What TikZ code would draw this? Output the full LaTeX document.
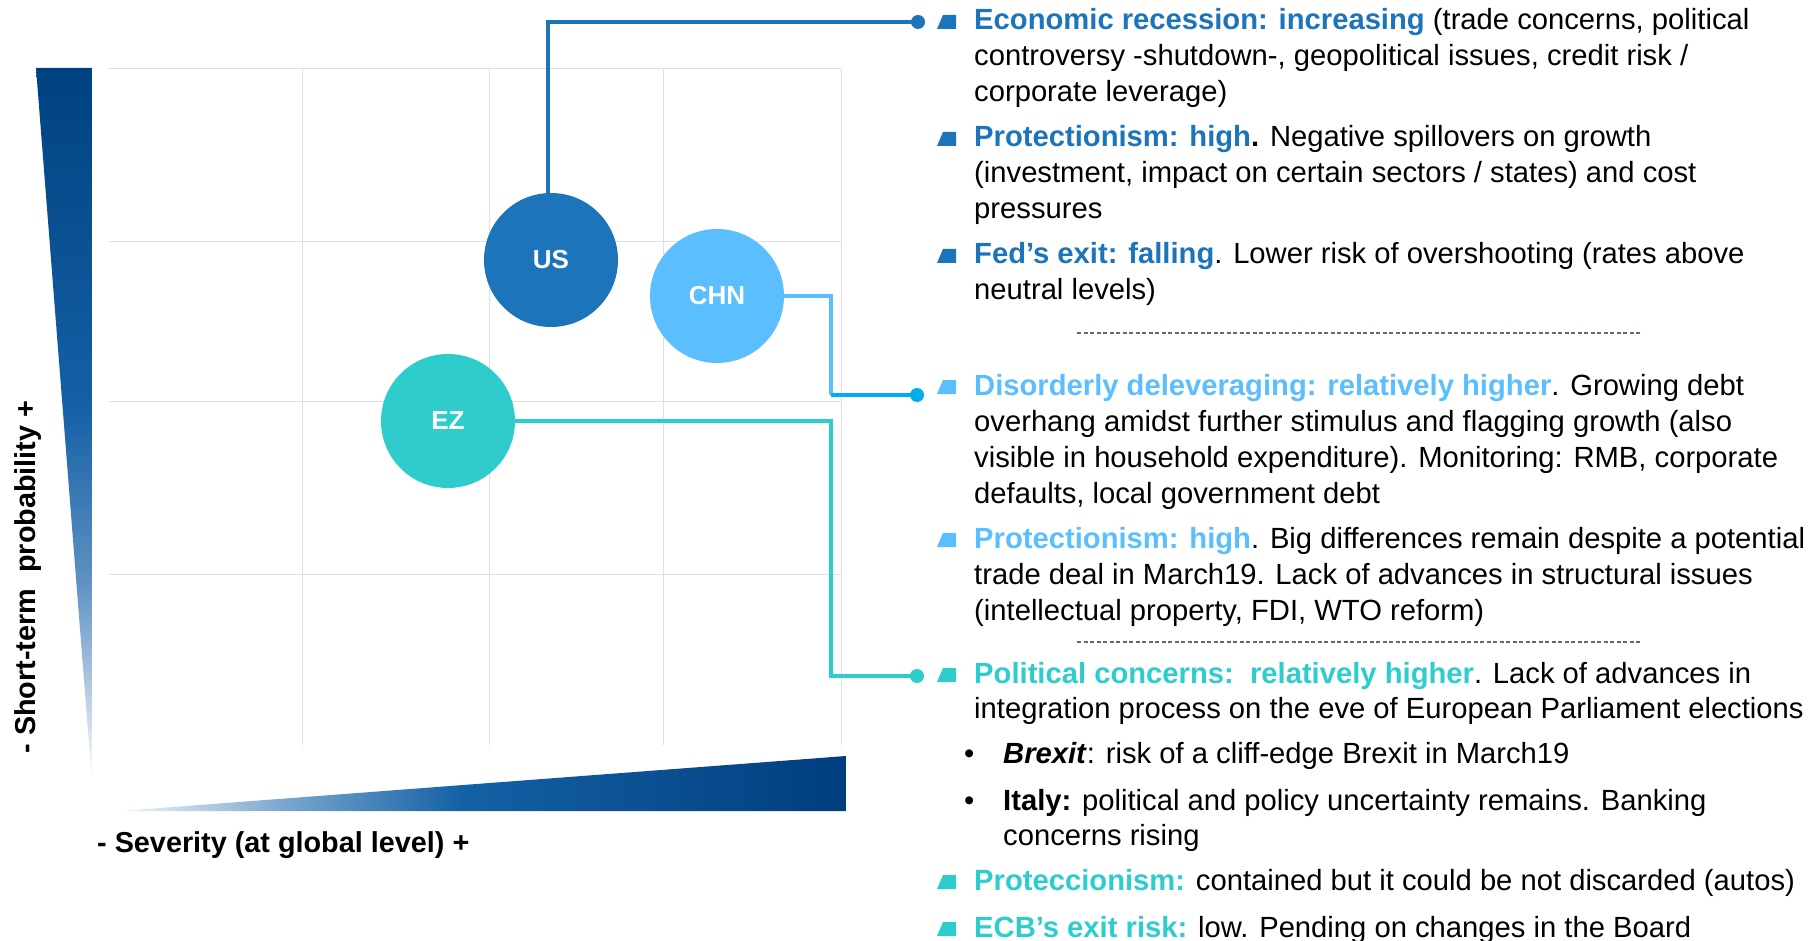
\documentclass[tikz,border=0pt]{standalone}
\usepackage{fontspec}
\setmainfont{Liberation Sans}
\usetikzlibrary{calc}
\definecolor{usb}{RGB}{28,116,187}
\definecolor{chn}{RGB}{91,190,255}
\definecolor{chnl}{RGB}{0,174,239}
\definecolor{ezc}{RGB}{46,204,204}
\definecolor{navy}{RGB}{0,62,126}
\definecolor{navyt}{RGB}{0,66,128}
\definecolor{sm1}{RGB}{120,165,205}
\definecolor{sm2}{RGB}{20,97,165}
\definecolor{pv1}{RGB}{190,210,230}
\definecolor{pv2}{RGB}{95,145,195}
\definecolor{pv3}{RGB}{20,95,165}
\definecolor{lw}{RGB}{240,245,251}
\definecolor{gridc}{RGB}{224,224,224}
\definecolor{sepc}{RGB}{100,100,125}
\pgfdeclarehorizontalshading{sevsh}{100bp}{color(0bp)=(lw); color(25bp)=(lw); color(36.5bp)=(sm1); color(48.5bp)=(sm2); color(75bp)=(navy); color(100bp)=(navy)}
\pgfdeclareverticalshading{probsh}{100bp}{color(0bp)=(white); color(25bp)=(white); color(30.5bp)=(pv1); color(39bp)=(pv2); color(51.5bp)=(pv3); color(75bp)=(navyt); color(100bp)=(navyt)}
\newcommand\hUS[1]{\textbf{\textcolor{usb}{#1}}}
\newcommand\hCH[1]{\textbf{\textcolor{chn}{#1}}}
\newcommand\hEZ[1]{\textbf{\textcolor{ezc}{#1}}}
\newcommand\sqbul[2]{\fill[#1] (937,#2-1) -- (956,#2-1) -- (956,#2-15) -- (943,#2-15) -- cycle;}
\tikzset{
  body/.style={anchor=base west, inner sep=0pt, font=\fontsize{29.2}{36}\selectfont, text=black},
  country/.style={circle, inner sep=0pt, minimum size=134pt, text=white, font=\fontsize{26}{30}\selectfont\bfseries},
  conn/.style={line width=4pt},
  gridline/.style={draw=gridc, line width=1pt},
  sepline/.style={draw=sepc, line width=1.2pt, dash pattern=on 4pt off 2.5pt},
  axislabel/.style={inner sep=0pt, font=\fontsize{28.8}{32}\selectfont\bfseries, text=black}
}
\begin{document}
\begin{tikzpicture}[x=1pt,y=-1pt]
\useasboundingbox (0,0) rectangle (1818,941);
% grid
\foreach \yy in {69,242,401,574} {\draw[gridline] (109,\yy) -- (841,\yy);}
\foreach \xx in {302,489,663,841} {\draw[gridline] (\xx,69) -- (\xx,745);}
% axis wedges
\shade[shading=probsh] (36,68) -- (92,68) -- (92,782) -- cycle;
\shade[shading=sevsh] (120,811) -- (846,811) -- (846,756) -- cycle;
% axis labels
\node[axislabel, rotate=90] (ylab) at (28,577) {- Short-term\ \ probability +};
\node[axislabel, anchor=base west] (xlab) at (97,852) {- Severity (at global level) +};
% countries
\node[country, fill=usb] (US) at (551,260) {US};
\node[country, fill=chn] (CHN) at (717,296) {CHN};
\node[country, fill=ezc] (EZ) at (448,421) {EZ};
% connector ends
\coordinate (dUS) at (918,22);
\coordinate (kC) at (831,395);
\coordinate (dCH) at (917,395);
\coordinate (kE) at (831,676);
\coordinate (dEZ) at (917,676);
\draw[conn, usb] ([xshift=-3pt]US.north) |- (dUS);
\draw[conn, chn] (CHN.east) -| (kC);
\draw[conn, chnl] (kC) -- (dCH);
\draw[conn, ezc] (EZ.east) -| (kE) -- (dEZ);
\fill[usb] (dUS) circle (7);
\fill[chnl] (dCH) circle (7);
\fill[ezc] (dEZ) circle (7);
% bullets
\sqbul{usb}{30}
\sqbul{usb}{147}
\sqbul{usb}{264}
\sqbul{chn}{395}
\sqbul{chn}{548}
\sqbul{ezc}{683}
\sqbul{ezc}{890}
\sqbul{ezc}{937}
% US text
\node[body] (u1) at (974,30) {\hUS{Economic recession: increasing} (trade concerns, political};
\node[body] (u2) at (974,66) {controversy -shutdown-, geopolitical issues, credit risk /};
\node[body] (u3) at (974,102) {corporate leverage)};
\node[body] (u4) at (974,147) {\hUS{Protectionism: high}\textbf{.} Negative spillovers on growth};
\node[body] (u5) at (974,183) {(investment, impact on certain sectors / states) and cost};
\node[body] (u6) at (974,219) {pressures};
\node[body] (u7) at (974,264) {\hUS{Fed’s exit: falling}. Lower risk of overshooting (rates above};
\node[body] (u8) at (974,300) {neutral levels)};
% separators
\coordinate (s1a) at (1077,333); \coordinate (s1b) at (1642,333);
\coordinate (s2a) at (1077,642); \coordinate (s2b) at (1642,642);
\draw[sepline] (s1a) -- (s1b);
\draw[sepline] (s2a) -- (s2b);
% CHN text
\node[body] (c1) at (974,395) {\hCH{Disorderly deleveraging: relatively higher}. Growing debt};
\node[body] (c2) at (974,431) {overhang amidst further stimulus and flagging growth (also};
\node[body] (c3) at (974,467) {visible in household expenditure). Monitoring: RMB, corporate};
\node[body] (c4) at (974,503) {defaults, local government debt};
\node[body] (c5) at (974,548) {\hCH{Protectionism: high}. Big differences remain despite a potential};
\node[body] (c6) at (974,584) {trade deal in March19. Lack of advances in structural issues};
\node[body] (c7) at (974,620) {(intellectual property, FDI, WTO reform)};
% EZ text
\node[body] (e1) at (974,683) {\hEZ{Political concerns:\ \ relatively higher}. Lack of advances in};
\node[body] (e2) at (974,718) {integration process on the eve of European Parliament elections};
\node[body] (eb1) at (964,763) {•};
\node[body] (e3) at (1003,763) {\textbf{\textit{Brexit}}: risk of a cliff-edge Brexit in March19};
\node[body] (eb2) at (964,810) {•};
\node[body] (e4) at (1003,810) {\textbf{Italy:} political and policy uncertainty remains. Banking};
\node[body] (e5) at (1003,845) {concerns rising};
\node[body] (e6) at (974,890) {\hEZ{Proteccionism:} contained but it could be not discarded (autos)};
\node[body] (e7) at (974,937) {\hEZ{ECB’s exit risk:} low. Pending on changes in the Board};
\end{tikzpicture}
\end{document}
